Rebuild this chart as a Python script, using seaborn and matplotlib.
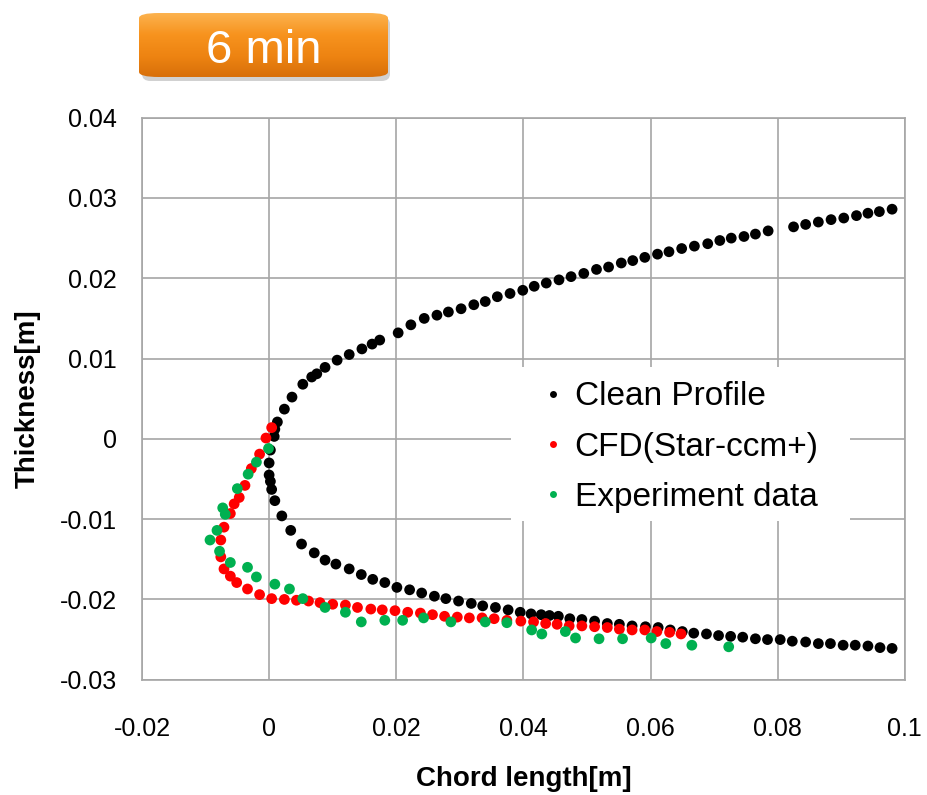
import numpy as np
import pandas as pd
import matplotlib
matplotlib.use("Agg")
import matplotlib.pyplot as plt
from matplotlib.patches import FancyBboxPatch, Rectangle
from matplotlib.lines import Line2D
from matplotlib.colors import LinearSegmentedColormap
import seaborn as sns

# ---------------- data ----------------
clean_x = [0.0980, 0.0960, 0.0942, 0.0924, 0.0904, 0.0884, 0.0864, 0.0844, 0.0825,
           0.0785, 0.0765, 0.0747, 0.0727, 0.0709, 0.0690, 0.0669, 0.0649, 0.0629,
           0.0611, 0.0591, 0.0572, 0.0554, 0.0534, 0.0515, 0.0495, 0.0475, 0.0456,
           0.0436, 0.0417, 0.0399, 0.0379, 0.0359, 0.0340, 0.0322, 0.0302, 0.0282,
           0.0264, 0.0244, 0.0223, 0.0203, 0.0174, 0.0162, 0.0146, 0.0126, 0.0107,
           0.0088, 0.0075, 0.0067, 0.0053, 0.0036, 0.0024, 0.0013, 0.0009, 0.0008,
           0.0002, 0.0000, 0.0000, 0.0002, 0.0004, 0.0009, 0.0020, 0.0034,
           0.0051, 0.0071, 0.0088, 0.0105, 0.0126, 0.0145, 0.0163, 0.0182, 0.0201,
           0.0221, 0.0240, 0.0260, 0.0278, 0.0298, 0.0318, 0.0336, 0.0356, 0.0376,
           0.0395, 0.0412, 0.0428, 0.0441, 0.0455, 0.0473, 0.0492, 0.0512, 0.0532,
           0.0551, 0.0571, 0.0592, 0.0612, 0.0631, 0.0650, 0.0668, 0.0688, 0.0707,
           0.0726, 0.0745, 0.0765, 0.0784, 0.0804, 0.0823, 0.0844, 0.0864, 0.0883,
           0.0903, 0.0922, 0.0942, 0.0961, 0.0980]
clean_y = [0.0286, 0.0283, 0.0281, 0.0278, 0.0275, 0.0273, 0.0270, 0.0267, 0.0264,
           0.0259, 0.0255, 0.0252, 0.0250, 0.0247, 0.0243, 0.0240, 0.0237, 0.0233,
           0.0230, 0.0226, 0.0222, 0.0219, 0.0214, 0.0211, 0.0206, 0.0202, 0.0198,
           0.0194, 0.0190, 0.0185, 0.0181, 0.0177, 0.0171, 0.0167, 0.0162, 0.0158,
           0.0154, 0.0150, 0.0142, 0.0132, 0.0123, 0.0118, 0.0112, 0.0105, 0.0098,
           0.0089, 0.0081, 0.0077, 0.0068, 0.0052, 0.0037, 0.0021, 0.0012, 0.0003,
           -0.0014, -0.0030, -0.0045, -0.0053, -0.0063, -0.0077, -0.0096, -0.0114,
           -0.0131, -0.0142, -0.0151, -0.0156, -0.0162, -0.0169, -0.0175, -0.0179, -0.0185,
           -0.0188, -0.0192, -0.0196, -0.0199, -0.0202, -0.0205, -0.0208, -0.0210, -0.0213,
           -0.0216, -0.0218, -0.0219, -0.0220, -0.0221, -0.0224, -0.0225, -0.0227, -0.0230,
           -0.0231, -0.0233, -0.0234, -0.0235, -0.0238, -0.0240, -0.0242, -0.0243, -0.0245,
           -0.0246, -0.0247, -0.0249, -0.0250, -0.0250, -0.0252, -0.0253, -0.0255, -0.0255,
           -0.0257, -0.0257, -0.0258, -0.0260, -0.0261]

cfd_x = [0.0004, -0.0005, -0.0015, -0.0028, -0.0038, -0.0047, -0.0055, -0.0061,
         -0.0071, -0.0076, -0.0076, -0.0071, -0.0061, -0.0051, -0.0034, -0.0015,
         0.0004, 0.0024, 0.0043, 0.0062, 0.0080, 0.0100, 0.0120, 0.0139, 0.0160,
         0.0178, 0.0198, 0.0218, 0.0238, 0.0257, 0.0276, 0.0296, 0.0315, 0.0335,
         0.0354, 0.0374, 0.0396, 0.0416, 0.0435, 0.0453, 0.0472, 0.0492, 0.0512,
         0.0532, 0.0551, 0.0571, 0.0591, 0.0610, 0.0630, 0.0648]
cfd_y = [0.0014, 0.0001, -0.0019, -0.0037, -0.0058, -0.0073, -0.0081, -0.0093,
         -0.0110, -0.0126, -0.0147, -0.0162, -0.0171, -0.0179, -0.0187, -0.0194,
         -0.0199, -0.0200, -0.0201, -0.0202, -0.0204, -0.0206, -0.0207, -0.0210, -0.0212,
         -0.0213, -0.0214, -0.0216, -0.0217, -0.0219, -0.0221, -0.0222, -0.0223, -0.0223,
         -0.0224, -0.0226, -0.0227, -0.0228, -0.0230, -0.0231, -0.0233, -0.0233, -0.0234,
         -0.0235, -0.0237, -0.0238, -0.0238, -0.0240, -0.0241, -0.0243]

exp_x = [-0.0001, -0.0020, -0.0033, -0.0050, -0.0073, -0.0069, -0.0082, -0.0093,
         -0.0078, -0.0061, -0.0034, -0.0020, 0.0009, 0.0032, 0.0053, 0.0088, 0.0120,
         0.0145, 0.0182, 0.0210, 0.0243, 0.0286, 0.0340, 0.0374, 0.0413, 0.0429,
         0.0466, 0.0482, 0.0519, 0.0556, 0.0601, 0.0624, 0.0665, 0.0723]
exp_y = [-0.0012, -0.0029, -0.0044, -0.0062, -0.0086, -0.0094, -0.0114, -0.0126,
         -0.0140, -0.0154, -0.0160, -0.0172, -0.0181, -0.0187, -0.0199, -0.0210, -0.0216,
         -0.0228, -0.0226, -0.0226, -0.0223, -0.0228, -0.0228, -0.0229, -0.0238, -0.0243,
         -0.0240, -0.0248, -0.0249, -0.0249, -0.0248, -0.0255, -0.0257, -0.0259]

series_names = ["Clean Profile", "CFD(Star-ccm+)", "Experiment data"]
x_ticks = [-0.02, 0, 0.02, 0.04, 0.06, 0.08, 0.1]
x_tick_labels = ["-0.02", "0", "0.02", "0.04", "0.06", "0.08", "0.1"]
y_ticks = [-0.03, -0.02, -0.01, 0, 0.01, 0.02, 0.03, 0.04]
y_tick_labels = ["-0.03", "-0.02", "-0.01", "0", "0.01", "0.02", "0.03", "0.04"]
title_text = "6 min"

# ---------------- build table ----------------
df = pd.concat([
    pd.DataFrame({"x": clean_x, "y": clean_y, "series": series_names[0]}),
    pd.DataFrame({"x": cfd_x, "y": cfd_y, "series": series_names[1]}),
    pd.DataFrame({"x": exp_x, "y": exp_y, "series": series_names[2]}),
], ignore_index=True)

sns.set_style("white")
plt.rcParams["font.family"] = ["Liberation Sans", "DejaVu Sans"]
plt.rcParams["text.color"] = "black"
plt.rcParams["axes.labelcolor"] = "black"

fig = plt.figure(figsize=(9.28, 7.95), dpi=100)
ax = fig.add_axes([0.153, 0.145, 0.822, 0.707])

palette = {series_names[0]: "#000000", series_names[1]: "#ff0000", series_names[2]: "#00b050"}
sns.scatterplot(data=df, x="x", y="y", hue="series", palette=palette, s=60,
                edgecolor="none", ax=ax, legend=False, zorder=3)

ax.set_xlim(-0.02, 0.1)
ax.set_ylim(-0.03, 0.04)
ax.set_xticks(x_ticks)
ax.set_xticklabels(x_tick_labels)
ax.set_yticks(y_ticks)
ax.set_yticklabels(y_tick_labels)
ax.tick_params(axis="both", labelsize=18, length=0, colors="#000000")
ax.tick_params(axis="y", pad=18)
ax.tick_params(axis="x", pad=27)
ax.grid(True, color="#a6a6a6", linewidth=1.2)
ax.set_axisbelow(True)
for sp in ax.spines.values():
    sp.set_color("#a6a6a6")
    sp.set_linewidth(1.2)

ax.set_xlabel("Chord length[m]", fontsize=20, fontweight="bold", labelpad=18, color="black")
ax.set_ylabel("Thickness[m]", fontsize=20, fontweight="bold", labelpad=14, color="black")

# white legend background
ax.add_patch(Rectangle((0.4836, 0.283), 0.4443, 0.274, transform=ax.transAxes,
                       facecolor="white", edgecolor="none", zorder=2))

handles = [Line2D([], [], linestyle="none", marker="o", markersize=5,
                  markerfacecolor=palette[n], markeredgecolor="none") for n in series_names]
leg = ax.legend(handles, series_names, loc="upper left", bbox_to_anchor=(0.5216, 0.531),
                fontsize=24, frameon=False, handletextpad=0.24, labelspacing=0.58,
                borderpad=0, borderaxespad=0, handlelength=0.8, labelcolor="black")
leg.set_zorder(5)

# orange title badge with gradient
shadow = FancyBboxPatch((142 / 928, 1 - 81 / 795), 248 / 928, 64 / 795,
                        boxstyle="round,pad=0,rounding_size=0.009",
                        transform=fig.transFigure, facecolor="#9a9a9a", edgecolor="none",
                        alpha=0.45, zorder=-5)
fig.patches.append(shadow)
bx0, by0, bw, bh = 139 / 928, 1 - 77 / 795, 249 / 928, 64 / 795
bax = fig.add_axes([bx0, by0, bw, bh], zorder=3)
bax.set_axis_off()
grad = np.linspace(0, 1, 64).reshape(-1, 1)
cmap = LinearSegmentedColormap.from_list("badge", ["#fcb24e", "#f7931e", "#ee8412", "#d9700a"])
img = bax.imshow(grad, aspect="auto", cmap=cmap, extent=[0, 1, 0, 1], origin="upper")
clip = FancyBboxPatch((0, 0), 1, 1, boxstyle="round,pad=0,rounding_size=0.08",
                      transform=bax.transAxes, facecolor="none", edgecolor="none")
bax.add_patch(clip)
img.set_clip_path(clip)
bax.set_xlim(0, 1)
bax.set_ylim(0, 1)
bax.text(0.5, 0.40, title_text, color="white", fontsize=34, ha="center", va="center",
         transform=bax.transAxes)

fig.savefig("out.png", dpi=100, facecolor="white")
